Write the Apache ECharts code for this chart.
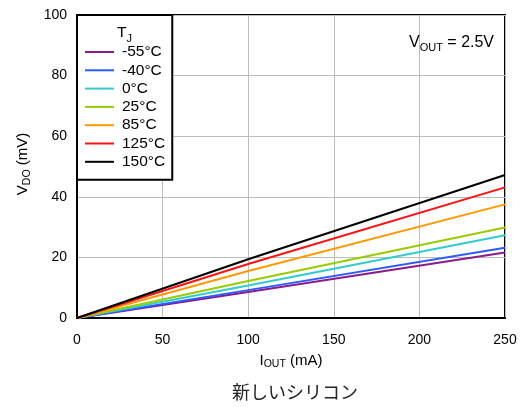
<!DOCTYPE html>
<html><head><meta charset="utf-8">
<script src="https://cdn.jsdelivr.net/npm/echarts@6/dist/echarts.min.js"></script>
<style>html,body{margin:0;padding:0;background:#fff}#c{width:525px;height:407px}</style>
</head><body><div id="c"></div>
<script>
const currents = [0, 100, 250];
const seriesNames = ['-55°C', '-40°C', '0°C', '25°C', '85°C', '125°C', '150°C'];
const vMinus55 = [0, 8.6, 21.6];
const vMinus40 = [0, 9.2, 23.2];
const v0 = [0, 10.7, 27.3];
const v25 = [0, 12.2, 29.9];
const v85 = [0, 15.5, 37.5];
const v125 = [0, 17.8, 43.1];
const v150 = [0, 19.4, 47.2];
const colors = ['#8B1A8B', '#2B5BFF', '#33CCCC', '#99CC00', '#FF9900', '#FF1010', '#000000'];
const allValues = [vMinus55, vMinus40, v0, v25, v85, v125, v150];

const FONT = 'Liberation Sans, Arial, sans-serif';
function subRich(size, subSize, drop, key) {
  const m = {fontSize: size, fontFamily: FONT, lineHeight: size + 2, verticalAlign: 'bottom'};
  const s = {fontSize: subSize, fontFamily: FONT, lineHeight: subSize + 2, verticalAlign: 'bottom', padding: [0, 0, -drop, 0]};
  m[key] = '#000'; s[key] = '#000';
  return {m: m, s: s};
}
const chart = echarts.init(document.getElementById('c'));
chart.setOption({
  animation: false,
  backgroundColor: '#fff',
  textStyle: {fontFamily: FONT},
  grid: {left: 77, right: 20, top: 15, bottom: 89, show: true, borderColor: '#000', borderWidth: 2, backgroundColor: 'transparent'},
  xAxis: {
    type: 'value', min: 0, max: 250, interval: 50,
    axisLine: {show: true, lineStyle: {color: '#000', width: 2}},
    axisTick: {show: false},
    axisLabel: {color: '#000', fontSize: 14, margin: 15, fontFamily: FONT},
    splitLine: {lineStyle: {color: '#bdbdbd', width: 1}},
    name: '{m|I}{s|OUT}{m| (mA)}', nameLocation: 'middle', nameGap: 33,
    nameTextStyle: {rich: subRich(15, 10.5, 2, 'color')}
  },
  yAxis: {
    type: 'value', min: 0, max: 100, interval: 20,
    axisLine: {show: true, lineStyle: {color: '#000', width: 2}},
    axisTick: {show: false},
    axisLabel: {color: '#000', fontSize: 14, margin: 10, fontFamily: FONT},
    splitLine: {lineStyle: {color: '#bdbdbd', width: 1}}
  },
  legend: {
    orient: 'vertical', left: 77, top: 15,
    padding: [29, 7, 10, 8],
    itemWidth: 29, itemHeight: 2, itemGap: 2.3,
    icon: 'rect',
    borderColor: '#000', borderWidth: 2, backgroundColor: '#fff',
    textStyle: {fontSize: 15.5, lineHeight: 16, color: '#000', fontFamily: FONT, padding: [0,0,0,3]},
    data: seriesNames
  },
  graphic: [
    {type: 'text', left: 117, top: 25, z: 100, style: {text: '{m|T}{s|J}', rich: subRich(15.5, 11, 3, 'fill')}},
    {type: 'text', left: 409, top: 35, z: 100, style: {text: '{m|V}{s|OUT}{m| = 2.5V}', rich: subRich(16, 11, 2, 'fill')}},
    {type: 'text', x: 22, y: 164, rotation: Math.PI / 2, z: 100, style: {text: '{m|V}{s|DO}{m| (mV)}', align: 'center', verticalAlign: 'middle', rich: subRich(15, 10.5, 2, 'fill')}},
    {type: 'text', x: 295, y: 383, z: 100, style: {text: '新しいシリコン', align: 'center', fontSize: 18, fill: '#222', fontFamily: 'Noto Sans CJK JP'}}
  ],
  series: allValues.map((vals, i) => ({
    name: seriesNames[i], type: 'line', showSymbol: false, symbol: 'none',
    data: currents.map((c, j) => [c, vals[j]]),
    lineStyle: {color: colors[i], width: 2}, itemStyle: {color: colors[i]}
  }))
});
</script></body></html>
